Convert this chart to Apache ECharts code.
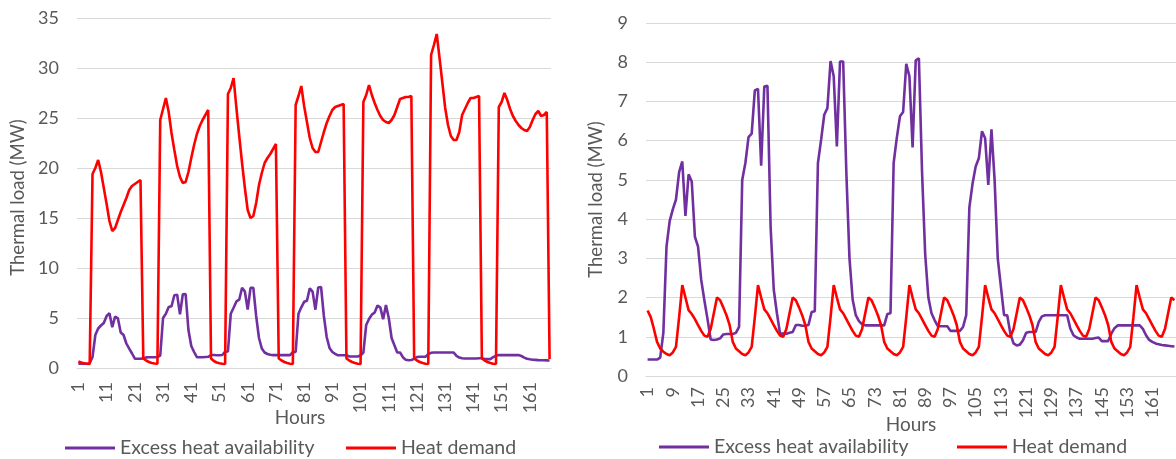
<!DOCTYPE html>
<html>
<head>
<meta charset="utf-8">
<script src="https://cdn.jsdelivr.net/npm/echarts@6/dist/echarts.min.js"></script>
<style>
html,body{margin:0;padding:0;background:#fff;}
#c{width:1176px;height:459px;}
</style>
</head>
<body>
<div id="c"></div>
<script>
// Hours 1..168
var hours = [];
for (var i = 1; i <= 168; i++) hours.push(String(i));

// Excess heat availability (MW) - same profile in both panels
var excessHeat = [
  0.42,0.42,0.42,0.42,0.47,1.1,3.3,3.95,4.25,4.5,5.2,5.47,4.08,5.14,4.96,3.55,3.3,2.45,1.93,1.45,0.93,0.92,0.93,0.96,
  1.06,1.07,1.07,1.07,1.1,1.25,5.0,5.43,6.09,6.18,7.28,7.32,5.36,7.38,7.4,3.8,2.2,1.6,1.08,1.08,1.08,1.1,1.12,1.3,
  1.3,1.28,1.28,1.3,1.63,1.65,5.43,6.02,6.66,6.83,8.03,7.64,5.85,8.02,8.02,5.2,3.0,1.95,1.55,1.4,1.32,1.29,1.29,1.29,
  1.29,1.29,1.29,1.29,1.58,1.6,5.43,6.07,6.62,6.73,7.96,7.64,5.83,8.05,8.1,5.2,3.1,2.0,1.6,1.42,1.27,1.27,1.27,1.27,
  1.15,1.15,1.15,1.15,1.25,1.55,4.3,4.9,5.34,5.55,6.24,6.06,4.87,6.29,5.0,3.0,2.27,1.55,1.55,1.08,0.83,0.78,0.8,0.91,
  1.1,1.12,1.12,1.12,1.38,1.52,1.55,1.55,1.55,1.55,1.55,1.55,1.55,1.55,1.21,1.04,0.98,0.95,0.95,0.95,0.95,0.95,0.97,0.98,
  0.89,0.89,0.89,1.08,1.22,1.29,1.29,1.29,1.29,1.29,1.29,1.29,1.29,1.2,1.04,0.92,0.87,0.83,0.81,0.79,0.78,0.77,0.76,0.75
];

// Heat demand, left panel (MW)
var heatDemandLeft = [
  0.65,0.55,0.47,0.42,0.4,19.4,20.0,20.8,19.6,18.0,16.4,14.7,13.7,14.0,14.8,15.6,16.3,17.0,17.8,18.2,18.4,18.6,18.8,0.95,
  0.75,0.6,0.5,0.45,0.42,24.8,25.9,27.0,25.6,23.5,21.8,20.2,19.1,18.5,18.6,19.6,21.0,22.3,23.4,24.2,24.8,25.3,25.8,0.95,
  0.7,0.55,0.48,0.42,0.4,27.4,28.0,29.0,26.0,23.2,20.5,18.0,15.8,15.0,15.2,16.5,18.3,19.5,20.5,21.0,21.4,21.9,22.4,0.95,
  0.75,0.6,0.5,0.43,0.4,26.3,27.2,28.2,26.2,24.6,23.0,22.0,21.6,21.6,22.6,23.6,24.5,25.2,25.8,26.1,26.2,26.3,26.4,0.95,
  0.75,0.6,0.5,0.43,0.4,26.6,27.3,28.3,27.3,26.5,25.8,25.2,24.8,24.6,24.5,24.8,25.3,26.1,26.9,27.0,27.1,27.1,27.2,0.95,
  0.75,0.6,0.5,0.43,0.4,31.3,32.3,33.4,31.0,28.5,26.0,24.3,23.2,22.8,22.8,23.6,25.3,25.9,26.5,27.0,27.0,27.1,27.2,0.95,
  0.75,0.6,0.5,0.43,0.4,26.1,26.6,27.5,26.8,25.9,25.2,24.7,24.3,24.0,23.8,23.7,24.1,24.8,25.4,25.7,25.2,25.3,25.6,0.9
];

// Heat demand, right panel (MW)
var heatDemandRight = [
  1.67,1.5,1.2,0.87,0.7,0.62,0.56,0.53,0.6,0.74,1.5,2.32,2.0,1.68,1.58,1.45,1.3,1.15,1.03,1.0,1.2,1.6,2.0,1.93,
  1.75,1.55,1.3,0.87,0.7,0.63,0.56,0.53,0.6,0.74,1.5,2.32,2.0,1.7,1.6,1.45,1.3,1.15,1.03,1.0,1.2,1.6,2.0,1.93,
  1.75,1.55,1.3,0.87,0.7,0.63,0.56,0.53,0.6,0.74,1.5,2.32,2.0,1.7,1.6,1.45,1.3,1.15,1.03,1.0,1.2,1.6,2.0,1.93,
  1.75,1.55,1.3,0.87,0.7,0.63,0.56,0.53,0.6,0.74,1.5,2.32,2.0,1.7,1.6,1.45,1.3,1.15,1.03,1.0,1.2,1.6,2.0,1.93,
  1.75,1.55,1.3,0.87,0.7,0.63,0.56,0.53,0.6,0.74,1.5,2.32,2.0,1.7,1.6,1.45,1.3,1.15,1.03,1.0,1.2,1.6,2.0,1.93,
  1.75,1.55,1.3,0.87,0.7,0.63,0.56,0.53,0.6,0.74,1.5,2.32,2.0,1.7,1.6,1.45,1.3,1.15,1.03,1.0,1.2,1.6,2.0,1.93,
  1.75,1.55,1.3,0.87,0.7,0.63,0.56,0.53,0.6,0.74,1.5,2.32,2.0,1.7,1.6,1.45,1.3,1.15,1.03,1.0,1.2,1.6,2.0,1.93
];

var SERIES_A = 'Excess heat availability';
var SERIES_B = 'Heat demand';

var FONT = 'Lato';
var TXT = '#595959';
var GRID_C = '#d9d9d9';
var PURPLE = '#7030A0';
var RED = '#FF0000';

function xAx(gridIndex, interval, margin, nameGap, shift) {
  return {
    type: 'category', gridIndex: gridIndex, data: hours, boundaryGap: true,
    axisLine: {show: true, lineStyle: {color: GRID_C, width: 1}},
    axisTick: {show: false},
    axisLabel: {interval: interval, rotate: 90, color: TXT, fontFamily: FONT, fontSize: 18, margin: margin},
    name: 'Hours', nameLocation: 'middle', nameGap: nameGap, nameMoveOverlap: false,
    nameTextStyle: {color: TXT, fontFamily: FONT, fontSize: 19, padding: [0, shift, 0, 0]}
  };
}
function yAx(gridIndex, max, interval, nameGap, shift) {
  return {
    type: 'value', gridIndex: gridIndex, min: 0, max: max, interval: interval,
    axisLine: {show: false}, axisTick: {show: false},
    splitLine: {lineStyle: {color: GRID_C, width: 1}},
    axisLabel: {color: TXT, fontFamily: FONT, fontSize: 18, margin: 18},
    name: 'Thermal load (MW)', nameLocation: 'middle', nameGap: nameGap, nameMoveOverlap: false,
    nameTextStyle: {color: TXT, fontFamily: FONT, fontSize: 18.5, padding: [0, shift, 0, 0]}
  };
}
function line(name, x, data, color) {
  return {
    name: name, type: 'line', xAxisIndex: x, yAxisIndex: x, data: data,
    symbol: 'none', smooth: false, animation: false,
    lineStyle: {color: color, width: 2.6}, itemStyle: {color: color}
  };
}
function leg(name, left, top, color) {
  return {
    data: [{name: name, icon: 'rect', itemStyle: {color: color}}],
    left: left, top: top, padding: 0, itemWidth: 50, itemHeight: 3,
    textStyle: {color: TXT, fontFamily: FONT, fontSize: 19.5}, selectedMode: false
  };
}

var chart = echarts.init(document.getElementById('c'), null, {renderer: 'canvas'});
chart.setOption({
  animation: false,
  backgroundColor: '#ffffff',
  grid: [
    {left: 77, top: 18, width: 474, height: 350},
    {left: 646, top: 23, width: 537.6, height: 353}
  ],
  xAxis: [xAx(0, 9, 14, 40, 28), xAx(1, 7, 11, 39, 0)],
  yAxis: [yAx(0, 35, 5, 49, 9), yAx(1, 9, 1, 40, 0)],
  legend: [
    leg(SERIES_A, 65, 438, PURPLE),
    leg(SERIES_B, 346, 438, RED),
    leg(SERIES_A, 659, 437, PURPLE),
    leg(SERIES_B, 957, 437, RED)
  ],
  series: [
    line(SERIES_A, 0, excessHeat, PURPLE),
    line(SERIES_B, 0, heatDemandLeft, RED),
    line(SERIES_A, 1, excessHeat, PURPLE),
    line(SERIES_B, 1, heatDemandRight, RED)
  ]
});
</script>
</body>
</html>
